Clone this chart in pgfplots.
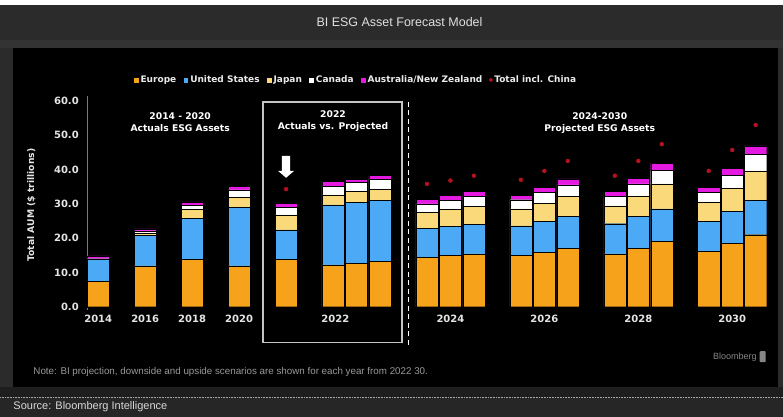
\documentclass[border=0pt]{standalone}
\usepackage{fontspec}
\setmainfont{DejaVu Sans}
\newfontfamily\libsans{Liberation Sans}
\usepackage{pgfplots}
\usepackage{pgfplotstable}
\pgfplotsset{compat=1.18}

\definecolor{cEur}{HTML}{F7A21B}
\definecolor{cUS}{HTML}{4BA9F5}
\definecolor{cJap}{HTML}{FAD97A}
\definecolor{cCan}{HTML}{FFFFFF}
\definecolor{cAus}{HTML}{E41AE0}
\definecolor{dotred}{HTML}{B3121E}
\definecolor{titlebg}{HTML}{2B2B2B}
\definecolor{bandbg}{HTML}{333333}
\definecolor{footbg}{HTML}{1E1E1E}
\definecolor{srcbg}{HTML}{262626}
\definecolor{axisgray}{HTML}{7A7A7A}
\definecolor{boxgray}{HTML}{C4C4C4}

\pgfplotsset{
  sqlegend/.style={legend image code/.code={\fill[##1] (0pt,-2.8pt) rectangle (5.6pt,2.8pt);}},
  esgframe/.style={
    at={(87pt,106.6pt)}, anchor=south west,
    scale only axis, width=688pt, height=214.5pt,
    xmin=-0.468, xmax=28.81, ymin=-1, ymax=61.5,
  },
}

% x: 0..28 in bar steps; E US J C A in $ trillions
\pgfplotstableread{
x  E    US   J    C    A
0  7.4  6.5  0.0  0.1  0.8
2  11.9 9.0  0.6  0.6  0.6
4  13.9 11.9 2.5  1.3  1.0
6  11.9 17.1 2.9  2.2  1.1
8  13.9 8.5  4.4  2.2  1.2
10 12.2 17.5 2.9  2.6  1.3
11 12.7 17.7 3.2  2.6  1.0
12 13.2 17.8 3.3  2.9  1.2
14 14.5 8.3  4.7  2.5  1.4
15 14.9 8.5  4.9  2.7  1.4
16 15.4 8.7  5.1  2.9  1.5
18 14.9 8.7  4.9  2.7  1.2
19 15.9 9.0  5.3  3.2  1.4
20 17.1 9.2  5.8  3.4  1.8
22 15.4 8.8  5.2  2.7  1.5
23 17.1 9.2  6.0  3.5  1.7
24 19.0 9.5  7.3  3.9  2.2
26 16.1 8.8  5.5  3.0  1.5
27 18.4 9.4  6.8  3.8  2.0
28 21.0 10.0 8.6  4.9  2.4
}\esg

\pgfplotstableread{
x  T
8  34.3
14 35.8
15 36.8
16 38.2
18 37.0
19 39.6
20 42.5
22 38.2
23 42.5
24 47.4
26 39.6
27 45.7
28 53.0
}\china

\begin{document}
\begin{tikzpicture}
\begin{scope}[x=1pt,y=1pt]
\fill[titlebg] (0,0) rectangle (783,417);
\fill[white] (0,412) rectangle (783,417);
\fill[bandbg] (0,369) rectangle (783,377);
\fill[black] (13,30) rectangle (778,369);
\fill[footbg] (0,19) rectangle (783,30);
\fill[srcbg] (0,0) rectangle (783,19);
\draw[gray!70, densely dotted, line width=0.6pt] (0,19) -- (783,19);
\node[anchor=center, inner sep=0pt, text=white!88!black, font=\libsans\fontsize{12.5}{14}\selectfont] at (399.5,395) {BI ESG Asset Forecast Model};
\node[anchor=west, inner sep=0pt, text=gray!80!white, font=\libsans\fontsize{9.8}{11}\selectfont] at (33,45) {Note: BI projection, downside and upside scenarios are shown for each year from 2022 30.};
\node[anchor=east, inner sep=0pt, text=gray!95!white, font=\libsans\fontsize{9}{11}\selectfont] at (757,60) {Bloomberg};
\fill[gray!95!white, rounded corners=0.8pt] (760,54.5) rectangle (766,65.5);
\node[anchor=west, inner sep=0pt, text=white!85!black, font=\libsans\fontsize{11}{12}\selectfont] at (13,10) {Source: Bloomberg Intelligence};
\end{scope}

\begin{axis}[
  esgframe,
  ybar stacked, bar width=0.94,
  axis lines=left,
  axis line style={-, draw=axisgray, line width=0.6pt},
  x axis line style={draw=none},
  major tick length=0pt,
  ytick={0,10,...,60},
  xtick={0,2,4,6,10.1,15,19,23,27},
  xticklabels={2014,2016,2018,2020,2022,2024,2026,2028,2030},
  /pgf/number format/assume math mode=true,
  y tick label style={/pgf/number format/fixed, /pgf/number format/fixed zerofill,
    /pgf/number format/precision=1},
  ticklabel style={text=white!90!black, font=\bfseries\fontsize{10}{11}\selectfont},
  yticklabel style={xshift=-5pt},
  xticklabel style={yshift=-1pt},
  ylabel={Total AUM (\$ trillions)},
  ylabel style={at={(axis description cs:-0.0814,0.49)}, anchor=center,
    text=white!90!black, font=\bfseries\fontsize{9.2}{10}\selectfont},
  legend columns=-1,
  legend style={at={(0.39,1.074)}, anchor=center, draw=none, fill=none,
    text=white!92!black, font=\bfseries\fontsize{9}{10}\selectfont,
    /tikz/every even column/.append style={column sep=5pt},
    nodes={inner sep=1.5pt}},
]
\addplot[fill=cEur, draw=black, line width=0.4pt, sqlegend] table[x=x,y=E]{\esg};
\addlegendentry{Europe}
\addplot[fill=cUS, draw=black, line width=0.4pt, sqlegend] table[x=x,y=US]{\esg};
\addlegendentry{United States}
\addplot[fill=cJap, draw=black, line width=0.4pt, sqlegend] table[x=x,y=J]{\esg};
\addlegendentry{Japan}
\addplot[fill=cCan, draw=black, line width=0.4pt, sqlegend] table[x=x,y=C]{\esg};
\addlegendentry{Canada}
\addplot[fill=cAus, draw=black, line width=0.4pt, sqlegend] table[x=x,y=A]{\esg};
\addlegendentry{Australia/New Zealand}
\addlegendimage{legend image code/.code={\fill[dotred] (2.8pt,0pt) circle (1.8pt);}}
\addlegendentry{Total incl. China}
\end{axis}

\begin{axis}[esgframe, hide axis, clip=false]
\addplot[only marks, mark=*, mark size=2pt, color=dotred, mark options={draw=none}] table[x=x,y=T]{\china};
% 2022 box and divider
\draw[boxgray, line width=1.2pt] (axis cs:7.02,59.7) rectangle (axis cs:12.94,-10.5);
\draw[white, line width=1.2pt, dash pattern=on 5pt off 3.5pt] (axis cs:13.23,59.7) -- (axis cs:13.23,-11.1);
% arrow on the 2022 actual bar
\fill[white] (axis cs:7.823,44.0) -- (axis cs:8.177,44.0) -- (axis cs:8.177,39.6)
  -- (axis cs:8.34,39.6) -- (axis cs:8,37.6) -- (axis cs:7.66,39.6) -- (axis cs:7.823,39.6) -- cycle;
\node[align=center, text=white, font=\bfseries\fontsize{9.2}{12}\selectfont] at (axis cs:3.49,53.9) {2014 - 2020\\Actuals ESG Assets};
\node[align=center, text=white, font=\bfseries\fontsize{9.2}{12}\selectfont] at (axis cs:10.0,54.2) {2022\\Actuals vs. Projected};
\node[align=center, text=white, font=\bfseries\fontsize{9.2}{12}\selectfont] at (axis cs:21.36,53.6) {2024-2030\\Projected ESG Assets};
\end{axis}
\end{tikzpicture}
\end{document}
